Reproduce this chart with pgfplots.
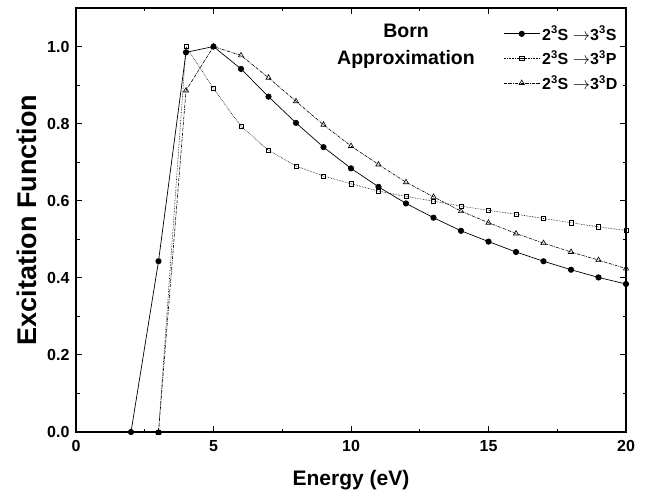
\documentclass[border=0pt]{standalone}
\usepackage{fontspec}
\setmainfont{Liberation Sans}
\usepackage{pgfplots}
\pgfplotsset{compat=1.18}
\usetikzlibrary{calc}
\begin{document}
\begin{tikzpicture}
\begin{axis}[
  scale only axis, width=550pt, height=424pt,
  xmin=0, xmax=20, ymin=0, ymax=1.1,
  xtick={0,5,10,15,20}, minor xtick={2.5,7.5,12.5,17.5},
  ytick={0,0.2,0.4,0.6,0.8,1.0}, minor ytick={0.1,0.3,0.5,0.7,0.9},
  yticklabel style={/pgf/number format/fixed,/pgf/number format/fixed zerofill,/pgf/number format/precision=1, xshift=-3pt},
  xticklabel style={yshift=-5pt},
  /pgf/number format/assume math mode=true,
  tick label style={font=\bfseries\fontsize{16}{18}\selectfont},
  tick align=inside, major tick length=6pt, minor tick length=3.5pt,
  every tick/.style={black, line width=0.9pt},
  axis line style={line width=1.2pt},
  xlabel={Energy (eV)}, ylabel={Excitation Function},
  xlabel style={font=\bfseries\fontsize{21}{24}\selectfont, yshift=-12pt},
  ylabel style={font=\bfseries\fontsize{27}{28}\selectfont, yshift=4pt},
  legend style={draw=none, fill=none, at={(0.99,0.965)}, anchor=north east, font=\bfseries\fontsize{16}{18}\selectfont, row sep=5pt, inner sep=1pt},
  legend cell align=left,
  legend image code/.code={\draw[mark repeat=2,mark phase=2,#1] plot coordinates {(0pt,0pt) (18pt,0pt) (36pt,0pt)};},
]
\addplot[black, line width=0.7pt, mark=*, mark size=2.7pt] coordinates {
(2,0) (3,0.443) (4,0.985) (5,1.0) (6,0.942) (7,0.870) (8,0.802) (9,0.739) (10,0.684)
(11,0.636) (12,0.593) (13,0.556) (14,0.522) (15,0.494) (16,0.467) (17,0.443) (18,0.421) (19,0.401) (20,0.384)};
\addlegendentry{2\textsuperscript{3}S $\rightarrow$3\textsuperscript{3}S}
\addplot[black, line width=0.6pt, densely dotted, mark=square, mark size=2.2pt, mark options={solid, line width=0.6pt}] coordinates {
(3,0) (4,1.0) (5,0.891) (6,0.793) (7,0.731) (8,0.690) (9,0.664) (10,0.644)
(11,0.625) (12,0.611) (13,0.599) (14,0.586) (15,0.575) (16,0.565) (17,0.554) (18,0.543) (19,0.532) (20,0.523)};
\addlegendentry{2\textsuperscript{3}S $\rightarrow$3\textsuperscript{3}P}
\addplot[black, line width=0.6pt, densely dashdotted, mark=triangle, mark size=3pt, mark options={solid, line width=0.6pt}] coordinates {
(3,0) (4,0.886) (5,1.0) (6,0.977) (7,0.919) (8,0.858) (9,0.797) (10,0.742)
(11,0.694) (12,0.648) (13,0.610) (14,0.573) (15,0.543) (16,0.515) (17,0.490) (18,0.467) (19,0.446) (20,0.424)};
\addlegendentry{2\textsuperscript{3}S $\rightarrow$3\textsuperscript{3}D}
\node[font=\bfseries\fontsize{19.5}{27}\selectfont, align=center] at (axis cs:12,1.0) {Born\\Approximation};
\end{axis}
\path (current axis.south west) ++(-76pt,-64pt) rectangle ($(current axis.north east)+(26pt,8pt)$);
\end{tikzpicture}
\end{document}
